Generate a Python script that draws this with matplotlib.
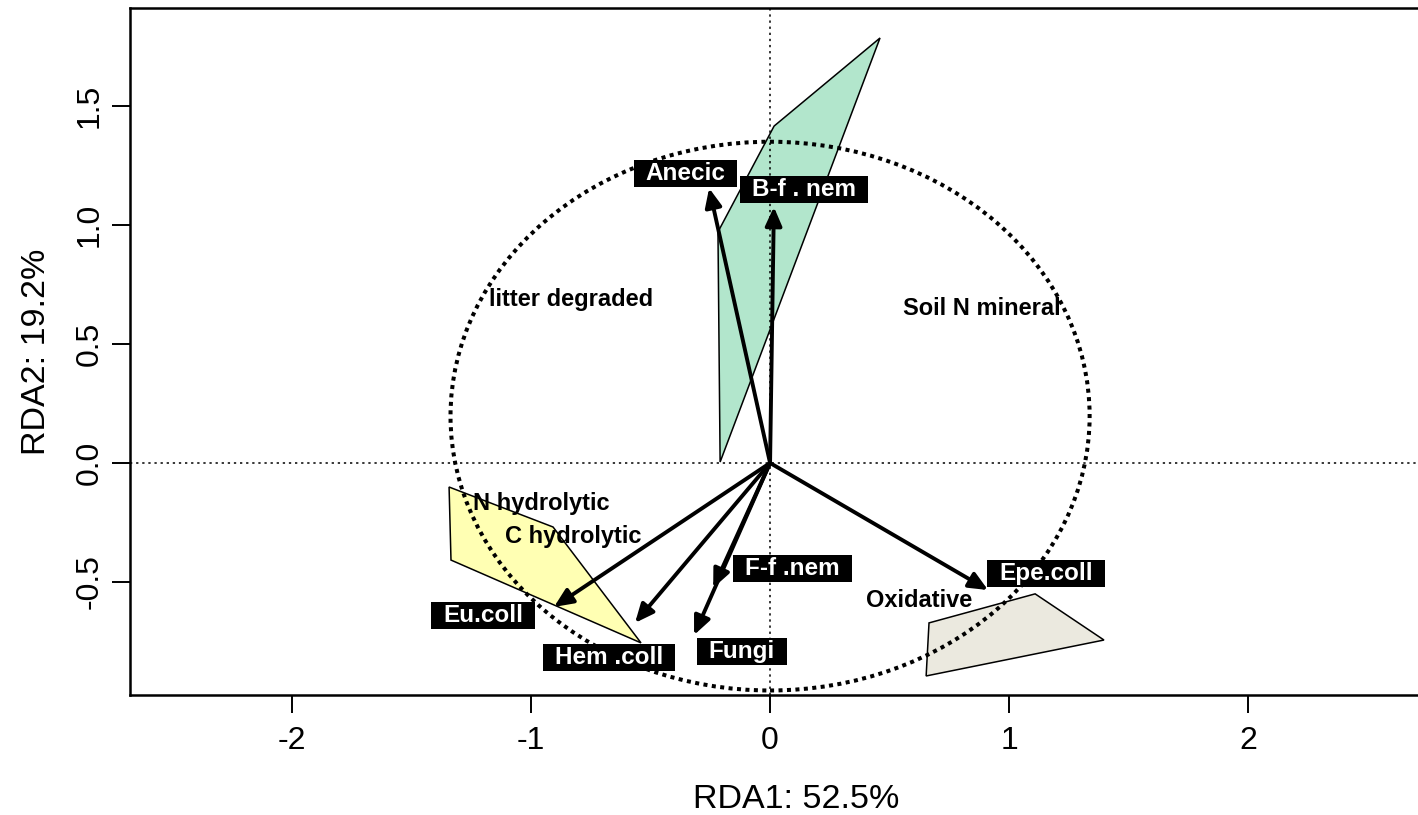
import numpy as np
import matplotlib
matplotlib.use('Agg')
import matplotlib.pyplot as plt
from matplotlib.patches import Polygon, Ellipse, Rectangle

plt.rcParams['font.family'] = ['Liberation Sans', 'DejaVu Sans']

# arrows (RDA scores) and where their boxed labels sit
arrow_names = ['Anecic', 'B-f . nem', 'Eu.coll', 'Hem .coll', 'Fungi', 'F-f .nem', 'Epe.coll']
arrow_x = [-0.255, 0.016, -0.904, -0.565, -0.318, -0.238, 0.912]
arrow_y = [1.155, 1.076, -0.605, -0.672, -0.723, -0.525, -0.534]
label_x = [-0.354, 0.142, -1.201, -0.674, -0.119, 0.094, 1.155]
label_y = [1.218, 1.151, -0.639, -0.817, -0.794, -0.443, -0.466]

# explanatory variable names
env_names = ['litter degraded', 'Soil N mineral', 'N hydrolytic', 'C hydrolytic', 'Oxidative']
env_x = [-0.833, 0.885, -0.958, -0.824, 0.623]
env_y = [0.685, 0.651, -0.172, -0.307, -0.576]

# hulls of site groups
green_x = [-0.209, -0.218, 0.017, 0.460]
green_y = [0.004, 0.971, 1.416, 1.786]
yellow_x = [-1.343, -0.908, -0.540, -1.335]
yellow_y = [-0.101, -0.269, -0.756, -0.408]
grey_x = [0.665, 1.109, 1.397, 0.653]
grey_y = [-0.672, -0.550, -0.744, -0.895]

# equilibrium ellipse
circ_center = (0.0, 0.197)
circ_rx = 1.337
circ_ry = 1.153

xticks = [-2, -1, 0, 1, 2]
yticks = [-0.5, 0.0, 0.5, 1.0, 1.5]

fig = plt.figure(figsize=(14.18, 8.15), dpi=100)
ax = fig.add_axes([130/1418, 120/815, 1332/1418, 687/815])
ax.set_xlim(-2.678, 2.895)
ax.set_ylim(-0.975, 1.912)

for xs, ys, col in [(green_x, green_y, '#b2e6cc'), (yellow_x, yellow_y, '#ffffb3'), (grey_x, grey_y, '#ebe9df')]:
    ax.add_patch(Polygon(np.column_stack([xs, ys]), closed=True, facecolor=col,
                         edgecolor='black', lw=1.1, zorder=1))

ax.axhline(0, color='black', lw=1.1, ls=(0, (1.5, 2.5)), zorder=2)
ax.axvline(0, color='black', lw=1.1, ls=(0, (1.5, 2.5)), zorder=2)

ax.add_patch(Ellipse(circ_center, 2*circ_rx, 2*circ_ry, fill=False, edgecolor='black',
                     lw=2.9, ls=(0, (1, 1.1)), zorder=3))

for x, y in zip(arrow_x, arrow_y):
    ax.annotate('', xy=(x, y), xytext=(0, 0), zorder=4,
                arrowprops=dict(arrowstyle='-|>,head_length=0.45,head_width=0.2',
                                mutation_scale=25, lw=2.8, color='black',
                                shrinkA=0, shrinkB=0))

for name, x, y in zip(env_names, env_x, env_y):
    ax.text(x, y, name, fontsize=17, fontweight='bold', ha='center', va='center', zorder=5)

labels = []
for name, x, y in zip(arrow_names, label_x, label_y):
    t = ax.text(x, y, name, fontsize=17.5, fontweight='bold', color='white',
                ha='center', va='center', zorder=7)
    labels.append(t)

ax.set_xticks(xticks)
ax.set_xticklabels([str(v) for v in xticks], fontsize=23)
ax.set_yticks(yticks)
ax.set_yticklabels(['%.1f' % v for v in yticks], fontsize=23, rotation=90, va='center')
ax.tick_params(direction='out', length=13, width=1.4)
ax.tick_params(axis='x', pad=9)
ax.tick_params(axis='y', pad=5)
for s in ax.spines.values():
    s.set_linewidth(1.8)

ax.set_xlabel('RDA1: 52.5%', fontsize=24.5)
ax.set_ylabel('RDA2: 19.2%', fontsize=24.5)
ax.xaxis.set_label_coords(0.5, -0.1528)
ax.yaxis.set_label_coords(-0.0705, 0.5)
ax.xaxis.label.set_va('center')
ax.yaxis.label.set_va('center')

# black boxes behind arrow labels
fig.canvas.draw()
r = fig.canvas.get_renderer()
inv = ax.transData.inverted()
for t in labels:
    bb = t.get_window_extent(r)
    (x0, y0) = inv.transform((bb.x0 - 12, bb.y0 - 2))
    (x1, y1) = inv.transform((bb.x1 + 12, bb.y1 + 2))
    ax.add_patch(Rectangle((x0, y0), x1 - x0, y1 - y0, facecolor='black', edgecolor='none', zorder=6))

fig.savefig('out.png', dpi=100)
